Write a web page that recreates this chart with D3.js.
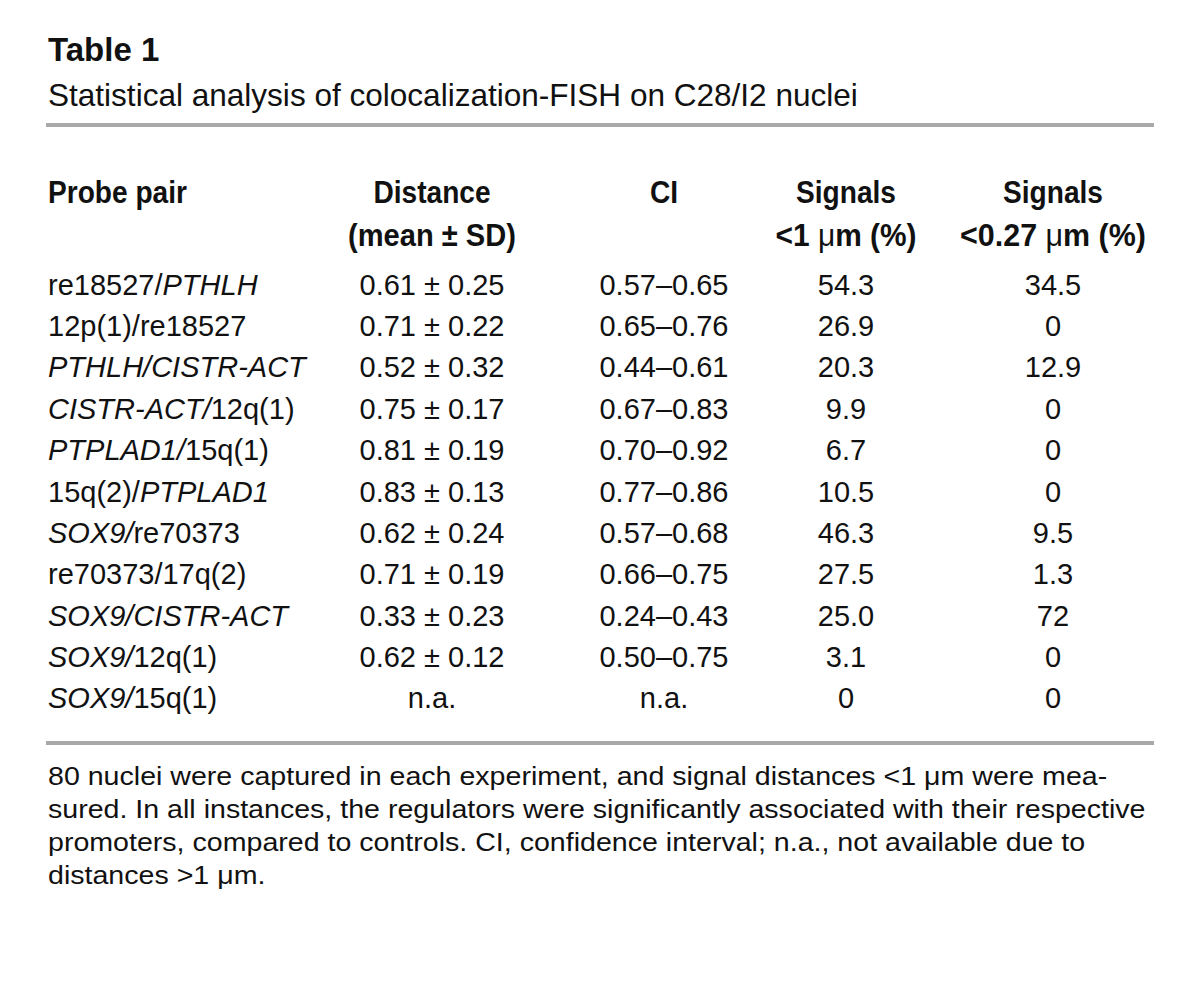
<!DOCTYPE html>
<html><head><meta charset="utf-8">
<script src="https://cdn.jsdelivr.net/npm/d3@7"></script>
<style>
html,body{margin:0;padding:0;background:#fff;}
svg text{fill:#111;}
</style></head>
<body>
<svg id="chart" width="1200" height="1001"></svg>
<script>
// ---- data ----
const title = "Table 1";
const subtitle = "Statistical analysis of colocalization-FISH on C28/I2 nuclei";
const headerLine1 = ["Probe pair", "Distance", "CI", "Signals", "Signals"];
const headerLine2 = ["", "(mean ± SD)", "", "<1 |μ|m (%)", "<0.27 |μ|m (%)"];
const probePairs = [
  "re18527/*PTHLH*",
  "12p(1)/re18527",
  "*PTHLH/CISTR-ACT*",
  "*CISTR-ACT/*12q(1)",
  "*PTPLAD1/*15q(1)",
  "15q(2)/*PTPLAD1*",
  "*SOX9/*re70373",
  "re70373/17q(2)",
  "*SOX9/CISTR-ACT*",
  "*SOX9/*12q(1)",
  "*SOX9/*15q(1)"
];
const distMean = ["0.61","0.71","0.52","0.75","0.81","0.83","0.62","0.71","0.33","0.62",null];
const distSD   = ["0.25","0.22","0.32","0.17","0.19","0.13","0.24","0.19","0.23","0.12",null];
const ciLow    = ["0.57","0.65","0.44","0.67","0.70","0.77","0.57","0.66","0.24","0.50",null];
const ciHigh   = ["0.65","0.76","0.61","0.83","0.92","0.86","0.68","0.75","0.43","0.75",null];
const signals1 = ["54.3","26.9","20.3","9.9","6.7","10.5","46.3","27.5","25.0","3.1","0"];
const signals027 = ["34.5","0","12.9","0","0","0","9.5","1.3","72","0","0"];
const footnote = [
  "80 nuclei were captured in each experiment, and signal distances <1 μm were mea-",
  "sured. In all instances, the regulators were significantly associated with their respective",
  "promoters, compared to controls. CI, confidence interval; n.a., not available due to",
  "distances >1 μm."
];

// ---- layout ----
const FONT = "'Liberation Sans',Arial,Helvetica,sans-serif";
const svg = d3.select("#chart").style("font-family", FONT);
const left = 46, right = 1154;
const cols = ["probe","dist","ci","s1","s027"];
const colX = d3.scaleOrdinal().domain(cols).range([48, 432, 664, 846, 1053]);
const colAnchor = d3.scaleOrdinal().domain(cols).range(["start","middle","middle","middle","middle"]);
const header2Width = d3.scaleOrdinal().domain(cols).range([0, 168, 0, 141, 186]);
const rowIdx = d3.range(probePairs.length);
const y = d3.scaleBand().domain(rowIdx).range([264, 719]).paddingInner(0);

function squeeze(sel, x, s) {
  sel.attr("transform", `translate(${x},0) scale(${s},1) translate(${-x},0)`);
}
function fitScale(sel, target) {
  return target / sel.node().getComputedTextLength();
}

svg.append("text").attr("x", 48).attr("y", 61)
  .attr("font-size", 33).attr("font-weight", "bold").text(title);
const sub = svg.append("text").attr("x", 48).attr("y", 106)
  .attr("font-size", 32).text(subtitle);
squeeze(sub, 48, fitScale(sub, 810));

svg.append("rect").attr("x", left).attr("y", 123).attr("width", right-left).attr("height", 4).attr("fill", "#a9a9a9");
svg.append("rect").attr("x", left).attr("y", 741).attr("width", right-left).attr("height", 4).attr("fill", "#a9a9a9");

// headers
const line1Texts = [];
cols.forEach((c, i) => {
  const t1 = svg.append("text").attr("x", colX(c)).attr("y", 203).attr("text-anchor", colAnchor(c))
    .attr("font-size", 31).attr("font-weight", "bold").text(headerLine1[i]);
  line1Texts.push([t1, colX(c)]);
});
const hs = fitScale(line1Texts[0][0], 139);
line1Texts.forEach(([t, x]) => squeeze(t, x, hs));
cols.forEach((c, i) => {
  if (!headerLine2[i]) return;
  const t2 = svg.append("text").attr("x", colX(c)).attr("y", 246).attr("text-anchor", colAnchor(c))
    .attr("font-size", 31).attr("font-weight", "bold");
  headerLine2[i].split("|").forEach((part, k) => {
    t2.append("tspan").attr("font-weight", k % 2 ? "normal" : "bold").text(part);
  });
  squeeze(t2, colX(c), fitScale(t2, header2Width(c)));
});

// rows
function segs(s) {
  return s.split("*").map((t, k) => ({t, it: k % 2 === 1})).filter(d => d.t.length);
}
const rows = rowIdx.map(i => ({
  probe: probePairs[i],
  dist: distMean[i] ? `${distMean[i]} ± ${distSD[i]}` : "n.a.",
  ci: ciLow[i] ? `${ciLow[i]}–${ciHigh[i]}` : "n.a.",
  s1: signals1[i],
  s027: signals027[i]
}));

const g = svg.append("g").attr("font-size", 29);
rows.forEach((r, i) => {
  const by = y(i) + y.bandwidth()/2 + 10;
  const pt = g.append("text").attr("x", colX("probe")).attr("y", by);
  segs(r.probe).forEach(s => pt.append("tspan").attr("font-style", s.it ? "italic" : "normal").text(s.t));
  ["dist","ci","s1","s027"].forEach(c => {
    g.append("text").attr("x", colX(c)).attr("y", by).attr("text-anchor", "middle").text(r[c]);
  });
});

// footnote
const fy = d3.scaleLinear().domain([0, 1]).range([785, 818]);
const fnTexts = footnote.map((line, i) =>
  svg.append("text").attr("x", 48).attr("y", fy(i)).attr("font-size", 26).text(line));
const fs = fitScale(fnTexts[1], 1098);
fnTexts.forEach(t => squeeze(t, 48, fs));
</script>
</body></html>
